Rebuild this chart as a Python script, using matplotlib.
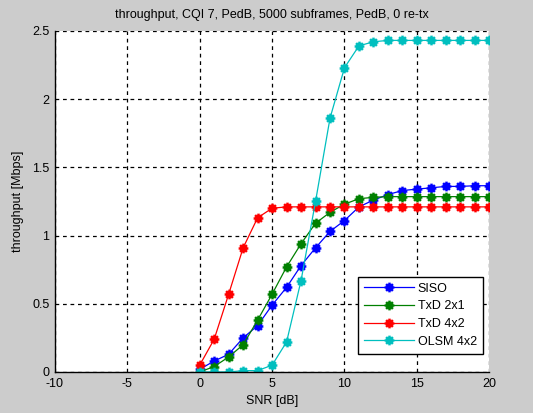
import numpy as np
import matplotlib
matplotlib.use("Agg")
import matplotlib.pyplot as plt
from matplotlib.path import Path
from matplotlib.markers import MarkerStyle

plt.rcParams['font.family'] = ['Liberation Sans', 'DejaVu Sans']
plt.rcParams['font.size'] = 9
plt.rcParams['axes.unicode_minus'] = False

snr = np.arange(0, 21)

siso = [0.02, 0.08, 0.13, 0.25, 0.34, 0.49, 0.62, 0.78, 0.91, 1.03, 1.11, 1.21, 1.26,
        1.30, 1.33, 1.34, 1.35, 1.36, 1.36, 1.365, 1.365]
txd_2x1 = [0.0, 0.04, 0.11, 0.20, 0.38, 0.57, 0.77, 0.94, 1.09, 1.17, 1.23, 1.27, 1.28,
           1.285, 1.285, 1.285, 1.285, 1.285, 1.285, 1.285, 1.285]
txd_4x2 = [0.05, 0.24, 0.57, 0.91, 1.13, 1.20, 1.21, 1.21, 1.21, 1.21, 1.21, 1.21, 1.21,
           1.21, 1.21, 1.21, 1.21, 1.21, 1.21, 1.21, 1.21]
olsm_4x2 = [0.0, 0.0, 0.0, 0.01, 0.01, 0.05, 0.22, 0.67, 1.25, 1.86, 2.23, 2.39, 2.42,
            2.43, 2.43, 2.43, 2.43, 2.43, 2.43, 2.43, 2.43]

series = [("SISO", siso, "#0000ff"),
          ("TxD 2x1", txd_2x1, "#008000"),
          ("TxD 4x2", txd_4x2, "#ff0000"),
          ("OLSM 4x2", olsm_4x2, "#00bfbf")]

# matlab style asterisk: plus + cross
d = 0.7
star_path = Path([(-1, 0), (1, 0), (0, -1), (0, 1), (-d, -d), (d, d), (-d, d), (d, -d)],
                 [Path.MOVETO, Path.LINETO] * 4)
star = MarkerStyle(star_path, fillstyle="none", capstyle="butt", joinstyle="miter")

fig = plt.figure(figsize=(5.33, 4.13), dpi=100, facecolor="#cccccc")
ax = fig.add_axes([0.103, 0.0993, 0.815, 0.826])
ax.set_facecolor("white")

for name, vals, col in series:
    ax.plot(snr, vals, color=col, lw=0.9, marker=star, ms=7, mew=1.8,
            mec=col, label=name)

ax.set_xlim(-10, 20)
ax.set_ylim(0, 2.5)
ax.set_xticks([-10, -5, 0, 5, 10, 15, 20])
ax.set_yticks([0, 0.5, 1, 1.5, 2, 2.5])
ax.set_yticklabels(["0", "0.5", "1", "1.5", "2", "2.5"])
ax.grid(True, color="black", linestyle=(0, (3, 3)), linewidth=0.9)
ax.set_axisbelow(True)
ax.spines['top'].set_visible(False)
ax.spines['right'].set_visible(False)
ax.spines['left'].set_linewidth(1.0)
ax.spines['bottom'].set_linewidth(1.0)
ax.tick_params(length=0, pad=4, labelsize=9, colors="black")

ax.set_title("throughput, CQI 7, PedB, 5000 subframes, PedB, 0 re-tx", fontsize=9, pad=9)
ax.set_xlabel("SNR [dB]", fontsize=9, labelpad=4)
ax.set_ylabel("throughput [Mbps]", fontsize=9, labelpad=6)

leg = ax.legend(loc="lower right", bbox_to_anchor=(0.986, 0.053), borderaxespad=0,
                fancybox=False, framealpha=1, edgecolor="black", fontsize=9,
                handlelength=4.0, borderpad=0.5, labelspacing=0.45, handletextpad=0.3)
leg.get_frame().set_linewidth(1.0)

fig.savefig("out.png", dpi=100, facecolor=fig.get_facecolor())
